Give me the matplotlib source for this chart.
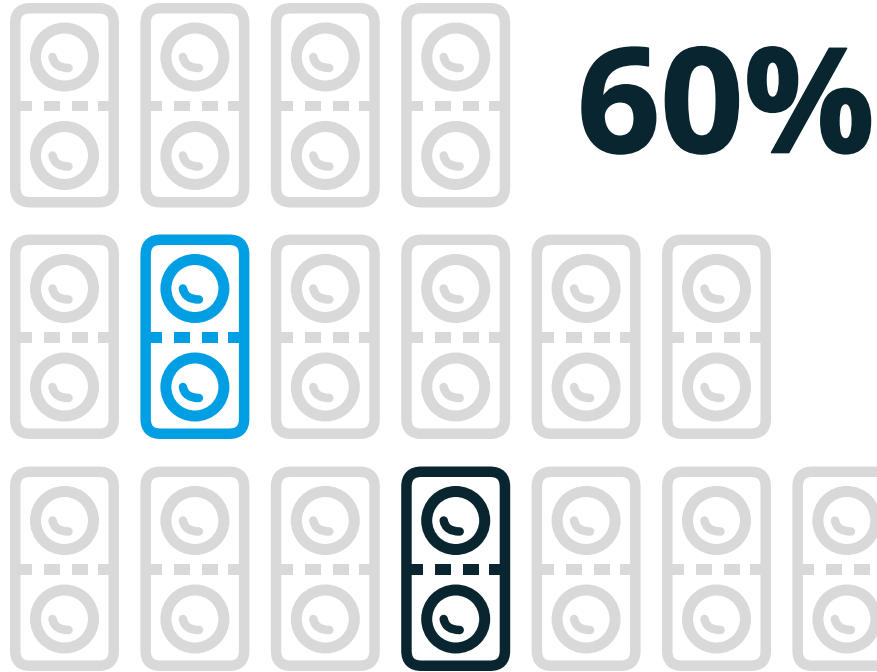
import matplotlib
matplotlib.use('Agg')
import matplotlib.pyplot as plt
import matplotlib.patheffects as pe
from matplotlib.patches import Circle, FancyBboxPatch, PathPatch, Rectangle
from matplotlib.path import Path

row_counts = [4, 6, 7]
highlights = {(1, 1): '#009fe3', (2, 3): '#082530'}
label = '60%'

GREY = '#d9d9d9'
DARK = '#082530'
PX = 72 / 100  # pixels to points at dpi 100

row_tops = [3, 234.5, 466.5]
col_step = 130.4
left0 = 10
W, H = 109, 204.5
LW = 10.5
R = 15


def draw_icon(ax, x, y, color):
    # outer rounded box, stroke is centred on the path
    ax.add_patch(FancyBboxPatch((x + LW / 2 + R, y + LW / 2 + R), W - LW - 2 * R, H - LW - 2 * R,
                                boxstyle=f'round,pad={R},rounding_size={R}', fc='none', ec=color, lw=LW * PX))
    cx = x + W / 2
    for cy in (y + 54, y + 152.5):
        ax.add_patch(Circle((cx, cy), 29, fc='none', ec=color, lw=11 * PX))
        verts = [(cx - 12, cy), (cx - 10, cy + 11), (cx + 4, cy + 11)]
        ax.add_patch(PathPatch(Path(verts, [Path.MOVETO, Path.CURVE3, Path.CURVE3]), fc='none',
                               ec=color, lw=8.5 * PX, capstyle='round'))
    # dashed divider
    for dx, dw in [(5, 17), (34, 16), (62, 16), (88, 16)]:
        ax.add_patch(Rectangle((x + dx, y + 97.5), dw, 10.5, fc=color, ec='none'))


fig = plt.figure(figsize=(8.77, 6.72), dpi=100)
ax = fig.add_axes([0, 0, 1, 1])
ax.set_xlim(0, 877)
ax.set_ylim(672, 0)
ax.axis('off')

for r, n in enumerate(row_counts):
    for c in range(n):
        draw_icon(ax, left0 + c * col_step, row_tops[r], highlights.get((r, c), GREY))

t = ax.text(577, 152.5, label, fontsize=105, fontweight='bold', family='Open Sans', color=DARK, ha='left', va='baseline')
t.set_path_effects([pe.withStroke(linewidth=1.2, foreground=DARK)])

fig.savefig('out.png', dpi=100)
